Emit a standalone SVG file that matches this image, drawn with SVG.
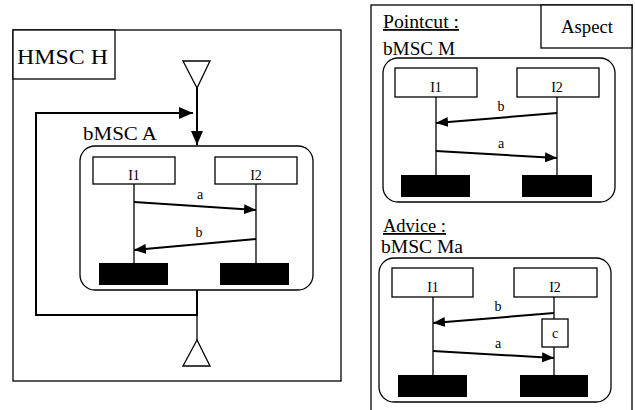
<svg xmlns="http://www.w3.org/2000/svg" width="635" height="410" viewBox="0 0 635 410">
<defs>
<marker id="ah" markerWidth="12" markerHeight="10" refX="12" refY="5" orient="auto" markerUnits="userSpaceOnUse">
<path d="M0,0 L12,5 L0,10 Z" fill="#000"/>
</marker>
<marker id="ahl" markerWidth="14" markerHeight="12" refX="14" refY="6" orient="auto" markerUnits="userSpaceOnUse">
<path d="M0,0 L14,6 L0,12 Z" fill="#000"/>
</marker>
<style>
.f{fill:#fff;stroke:#000;stroke-width:1.3}
.b{fill:#000;stroke:none}
.l{stroke:#000;stroke-width:1.3;fill:none}
.m{stroke:#000;stroke-width:2;fill:none;marker-end:url(#ah)}
.c{stroke:#000;stroke-width:2;fill:none}
text{font-family:"Liberation Serif","Times New Roman",serif;fill:#000}
.big{font-size:21px}
.mid{font-size:18px}
.sm{font-size:14px}
</style>
</defs>
<rect width="635" height="410" fill="#fff"/>

<g id="hmsc-h">
<rect class="f" x="13" y="30" width="328" height="351"/>
<rect class="f" x="13" y="30" width="102" height="49"/>
<text class="big" x="17" y="64" textLength="91" lengthAdjust="spacingAndGlyphs">HMSC H</text>
</g>

<g id="start">
<polygon class="f" points="183,61 210,61 197,88"/>
</g>
<g id="end">
<polygon class="f" points="197,340 183,366 210,366"/>
</g>

<g id="bmsc-a">
<text class="mid" x="83" y="140" textLength="74" lengthAdjust="spacingAndGlyphs">bMSC A</text>
<rect class="f" x="80" y="146" width="233" height="144" rx="15"/>
<g id="a-i1">
<rect class="f" x="93" y="157" width="82" height="27"/>
<text class="sm" x="134" y="180" text-anchor="middle">I1</text>
<line class="l" x1="134" y1="184" x2="134" y2="263"/>
<rect class="b" x="99" y="263" width="69" height="22"/>
</g>
<g id="a-i2">
<rect class="f" x="215" y="157" width="82" height="27"/>
<text class="sm" x="256" y="180" text-anchor="middle">I2</text>
<line class="l" x1="256" y1="184" x2="256" y2="263"/>
<rect class="b" x="220" y="263" width="69" height="22"/>
</g>
<line class="m" x1="134" y1="202" x2="256" y2="210"/>
<text class="sm" x="200" y="199" text-anchor="middle">a</text>
<line class="m" x1="256" y1="239" x2="134" y2="250"/>
<text class="sm" x="199" y="237" text-anchor="middle">b</text>
</g>

<g id="connectors">
<line class="c" x1="197" y1="88" x2="197" y2="145" style="marker-end:url(#ahl)"/>
<polyline class="c" points="197,290 197,315 36,315 36,113 193,113" style="marker-end:url(#ahl)"/>
<line class="l" x1="197" y1="315" x2="197" y2="340"/>
</g>

<g id="aspect">
<rect class="f" x="371" y="5" width="261" height="420"/>
<rect class="f" x="541" y="5" width="91" height="43"/>
<text class="mid" x="561" y="33" textLength="52" lengthAdjust="spacingAndGlyphs">Aspect</text>
<text class="mid" x="383" y="28" text-decoration="underline" textLength="76" lengthAdjust="spacingAndGlyphs">Pointcut :</text>
<text class="mid" x="383" y="55" textLength="72" lengthAdjust="spacingAndGlyphs">bMSC M</text>
<text class="mid" x="383" y="232" text-decoration="underline" textLength="63" lengthAdjust="spacingAndGlyphs">Advice :</text>
<text class="mid" x="381" y="253" textLength="82" lengthAdjust="spacingAndGlyphs">bMSC Ma</text>
</g>

<g id="bmsc-m">
<rect class="f" x="383" y="58" width="232" height="144" rx="15"/>
<g id="m-i1">
<rect class="f" x="395" y="68" width="82" height="29"/>
<text class="sm" x="436" y="92" text-anchor="middle">I1</text>
<line class="l" x1="436" y1="97" x2="436" y2="175"/>
<rect class="b" x="401" y="175" width="69" height="22"/>
</g>
<g id="m-i2">
<rect class="f" x="517" y="68" width="82" height="29"/>
<text class="sm" x="557" y="92" text-anchor="middle">I2</text>
<line class="l" x1="557" y1="97" x2="557" y2="175"/>
<rect class="b" x="522" y="175" width="70" height="22"/>
</g>
<line class="m" x1="557" y1="113" x2="436" y2="123"/>
<text class="sm" x="501" y="111" text-anchor="middle">b</text>
<line class="m" x1="436" y1="151" x2="557" y2="158"/>
<text class="sm" x="501" y="148" text-anchor="middle">a</text>
</g>

<g id="bmsc-ma">
<rect class="f" x="379" y="258" width="232" height="144" rx="15"/>
<g id="ma-i1">
<rect class="f" x="392" y="268" width="81" height="29"/>
<text class="sm" x="433" y="292" text-anchor="middle">I1</text>
<line class="l" x1="433" y1="297" x2="433" y2="375"/>
<rect class="b" x="398" y="375" width="69" height="22"/>
</g>
<g id="ma-i2">
<rect class="f" x="514" y="268" width="83" height="29"/>
<text class="sm" x="555" y="292" text-anchor="middle">I2</text>
<line class="l" x1="554" y1="297" x2="554" y2="375"/>
<rect class="b" x="520" y="375" width="68" height="22"/>
</g>
<g id="ma-c">
<rect class="f" x="542" y="319" width="26" height="28"/>
<text class="sm" x="555" y="338" text-anchor="middle">c</text>
</g>
<line class="m" x1="554" y1="313" x2="433" y2="323"/>
<text class="sm" x="498" y="311" text-anchor="middle">b</text>
<line class="m" x1="433" y1="351" x2="554" y2="358"/>
<text class="sm" x="498" y="348" text-anchor="middle">a</text>
</g>
</svg>
